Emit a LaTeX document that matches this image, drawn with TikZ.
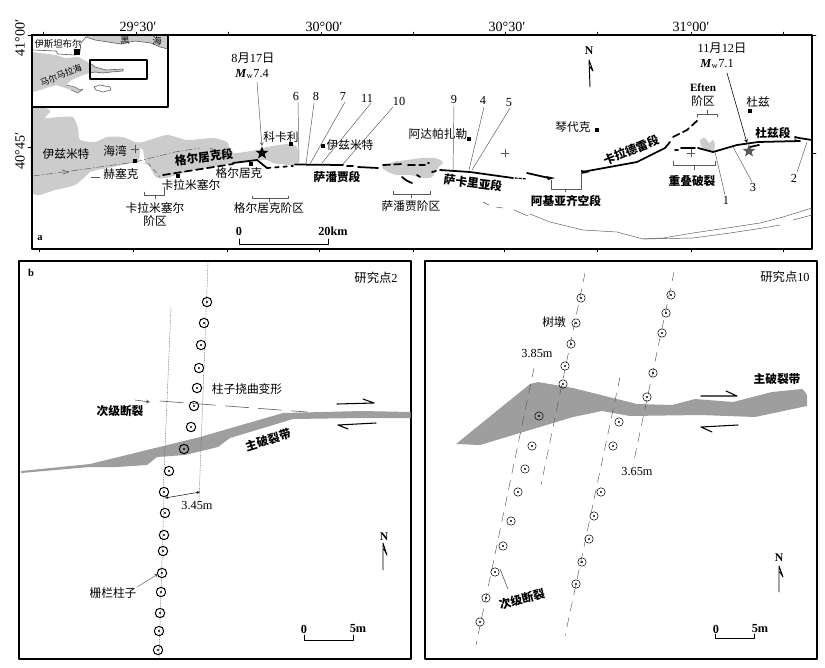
\documentclass[tikz,border=0pt]{standalone}
\usepackage{fontspec}
\usetikzlibrary{shapes.geometric,arrows.meta}
\setmainfont{Liberation Serif}
\newfontfamily\cjk{Noto Sans CJK SC}
\definecolor{seagray}{gray}{0.80}
\definecolor{bandgray}{gray}{0.62}
\definecolor{thingray}{gray}{0.35}
\tikzset{
	zh/.style={font=\cjk\fontsize{10}{12}\selectfont, inner sep=1pt},
	zhb/.style={font=\cjk\bfseries\fontsize{10}{12}\selectfont, inner sep=1pt},
	zhsmall/.style={font=\cjk\fontsize{8}{10}\selectfont, inner sep=0pt},
	lat/.style={font=\fontsize{10.5}{12}\selectfont, inner sep=1pt},
	coord/.style={font=\fontsize{12}{14}\selectfont, inner sep=1pt},
	northlab/.style={font=\fontsize{10}{12}\selectfont\bfseries, inner sep=1pt},
	leader/.style={draw=thingray, line width=0.4pt},
	fault/.style={line width=1.5pt},
	dashfault/.style={line width=1.5pt, dash pattern=on 6pt off 3.5pt},
	town/.style={fill=black, inner sep=0pt, minimum size=3pt},
	cross/.style={draw=thingray, line width=0.4pt},
	frame/.style={line width=1pt},
	post/.style={line width=0.85pt},
	postthin/.style={line width=0.45pt},
	quake/.style={star, star points=5, star point ratio=2.4, inner sep=0pt, minimum size=11.5pt},
}
\begin{document}
\begin{tikzpicture}[x=0.03cm, y=-0.03cm, line join=round, line cap=round, >=stealth]
	\useasboundingbox (0,0) rectangle (825,667);

	\fill[seagray] plot[smooth cycle, tension=0.35] coordinates {(32,109) (48,109) (50,112) (45,118) (60,117) (73,117) (78,128) (80,140) (95,142) (107,137) (123,137) (135,142) (143,142) (167,135) (187,140) (213,138) (227,142) (233,153) (257,150) (267,147) (287,144) (297,147) (298,163) (290,165) (273,163) (267,160) (257,160) (233,163) (213,167) (193,170) (166,178) (156,177) (148,165) (138,162) (131,163) (108,168) (97,170) (90,172) (85,177) (75,185) (55,190) (32,192)};
	\fill[seagray] (32,108) rectangle (38,192);
	\fill[white] (140,148) -- (143,150) -- (145,163) -- (139,162) -- cycle;
	\fill[seagray] plot[smooth cycle, tension=0.4] coordinates {(382,167) (393,162) (407,160) (422,158) (435,158) (443,162) (438,168) (432,177) (423,178) (410,175) (397,175) (388,172)};
	\fill[seagray] plot[smooth cycle, tension=0.5] coordinates {(700,140) (705,138) (709,143) (713,140) (715,145) (713,152) (707,150) (702,147)};

	\draw[frame] (32,35) rectangle (812,249);
	\foreach \x in {43,136,228,321,413,505,597,691,783} {\draw[thin] (\x,35) -- (\x,32);}
	\foreach \x in {39,133,227,319,413,504,597,691,783} {\draw[thin] (\x,249) -- (\x,252);}
	\draw[thin] (32,35) -- (28,35) (32,147) -- (28,147) (812,35) -- (816,35) (812,153) -- (816,153);
	\draw[cross] (131,149) -- (139,149) (135,145) -- (135,153) (501,153) -- (509,153) (505,149) -- (505,157) (687,153) -- (695,153) (691,149) -- (691,157);

	\node[coord] (lon1) at (138,27) {29°30′};
	\node[coord] (lon2) at (324,27) {30°00′};
	\node[coord] (lon3) at (507,27) {30°30′};
	\node[coord] (lon4) at (691,27) {31°00′};
	\node[coord, rotate=90] (lat1) at (20,38) {41°00′};
	\node[coord, rotate=90] (lat2) at (20,151) {40°45′};

	\fill[white] (32,35) rectangle (168,107);
	\fill[seagray] (85,35) -- (86,37) -- (95,40) -- (121,44) -- (135,41) -- (151,43) -- (160,47) -- (168,49) -- (168,35) -- cycle;
	\draw[thingray, line width=0.5pt] (86,37) -- (95,40) -- (121,44) -- (135,41) -- (151,43) -- (160,47) -- (168,49);
	\draw[thingray, line width=0.5pt] (33,50) -- (56,51) -- (58,54) -- (75,55) -- (80,52) -- (81,43) -- (86,37);
	\fill[seagray] (32,52) -- (56,55) -- (65,58) -- (78,57) -- (88,62) -- (90,65) -- (90,73) -- (83,75) -- (71,80) -- (66,85) -- (75,87) -- (80,90) -- (83,89) -- (78,93) -- (71,90) -- (65,88) -- (56,85) -- (46,88) -- (40,90) -- (32,92) -- cycle;
	\draw[thingray, line width=0.5pt, fill=seagray] (90,63) -- (95,67) -- (106,70) -- (123,69) -- (123,71) -- (111,72) -- (103,73) -- (95,72) -- (90,73);
	\draw[thingray, line width=0.5pt] (94,87) -- (100,85) -- (110,87) -- (111,90) -- (103,92) -- (96,90) -- cycle;
	\draw[thingray, line width=0.4pt] (66,85) -- (75,87) -- (80,90) -- (83,89) -- (78,93) -- (71,90);
	\draw[frame] (32,35) rectangle (168,107);
	\draw[line width=0.9pt] (90,60) rectangle (147,79);
	\node[zhsmall] (istanbul) at (58,44) {伊斯坦布尔};
	\node[town, minimum size=5pt] (istsq) at (77,52) {};
	\node[zhsmall] (heia) at (125,40) {黑};
	\node[zhsmall] (heib) at (157,41) {海};
	\node[zhsmall, rotate=22, font=\cjk\fontsize{7.5}{9}\selectfont] (marmara) at (61,75) {马尔马拉海};

	\draw[thingray, line width=0.4pt, dash pattern=on 6pt off 2pt on 1pt off 2pt] (33,176) -- (71,171) -- (135,162) -- (175,152) -- (200,148);
	\draw[thingray, line width=0.4pt, dash pattern=on 4pt off 3pt] (210,148) -- (230,158) (148,163) -- (160,177);
	\draw[thingray, line width=0.5pt] (62,170) -- (69,172) -- (63,174);
	\draw[line width=0.4pt, thingray] (91,177) -- (100,177);

	\draw[dashfault] (163,175) -- (233,164);
	\draw[fault] (233,163) -- (257,160) -- (267,168);
	\draw[line width=1.5pt, dash pattern=on 3pt off 4pt] (267,168) -- (293,166);
	\draw[fault] (295,164.5) -- (343,165);
	\draw[fault] (347,166) -- (353,166) (358,167) -- (378,168);
	\draw[dashfault] (383,165) -- (402,164) (408,165) -- (425,165);
	\draw[fault] (402,177) to[bend right=10] (412,183);
	\draw[fault] (417,175) -- (420,177) (428,163) -- (429,163) (432,172) -- (436,171);
	\draw[fault] (440,170) -- (470,172) -- (513,178);
	\draw[line width=1pt, dash pattern=on 2pt off 1.5pt] (515,178) -- (527,179);
	\draw[fault] (527,173) -- (549,178);
	\fill (546,176) -- (555,178) -- (548,180) -- cycle;
	\fill (581,170) -- (590,172) -- (581,174) -- cycle;
	\draw[fault] (582,172) -- (637,162) -- (665,148) -- (670,142);
	\draw[dashfault] (673,137) -- (687,130) -- (699,119);
	\draw[fault] (675,150) -- (678,150) (681,148) -- (695,148) (698,148) -- (713,152) -- (737,145) -- (758,142) -- (800,141);
	\draw[fault] (795,137) -- (799,138) -- (812,140);
	\draw[line width=0.8pt] (795,137) -- (795,140) -- (800,141);
	\draw[fault] (750,147) -- (759,145);

	\draw[thingray, line width=0.4pt] (483,202) -- (489,205) (496,207) -- (503,208) (514,210) -- (528,216);
	\draw[thingray, line width=0.4pt] (530,214) -- (550,222) -- (583,230) -- (617,232) -- (643,239) -- (663,238) -- (693,233) -- (727,228) -- (760,223) -- (783,217) -- (812,208);
	\draw[thingray, line width=0.4pt] (643,239) -- (693,238) -- (730,233) -- (763,228) -- (780,225) (793,220) -- (812,215);

	\node[zh] (izmitbay) at (66,154) {伊兹米特};
	\node[zh] (gulf) at (115,151) {海湾};
	\node[zh] (hersek) at (121,174) {赫塞克};
	\node[town] (hersq) at (135,161) {};
	\node[zh] (kara) at (191,185) {卡拉米塞尔};
	\node[town] (karasq) at (178,176) {};
	\node[zh] (golcuk) at (239,173) {格尔居克};
	\node[town] (golsq) at (251,164) {};
	\node[zhb, rotate=7] (golseg) at (204,157) {格尔居克段};
	\node[zh] (kocaeli) at (281,137) {科卡利};
	\node[town] (kocsq) at (291,144) {};
	\node[zh] (izmit) at (350,145) {伊兹米特};
	\node[town] (izsq) at (323,146) {};
	\node[zhb] (sapseg) at (337,177) {萨潘贾段};
	\node[zh] (karastep) at (155,208) {卡拉米塞尔};
	\node[zh] (karastepb) at (155,221) {阶区};
	\node[zh] (golstep) at (269,208) {格尔居克阶区};
	\node[zh] (sapstep) at (411,206) {萨潘贾阶区};
	\node[zh] (adapazari) at (438,134) {阿达帕扎勒};
	\node[town] (adasq) at (469,139) {};
	\node[zhb, rotate=-7] (sakseg) at (473,183) {萨卡里亚段};
	\node[zhb] (akyazi) at (566,201) {阿基亚齐空段};
	\node[zh] (cinarcik) at (573,127) {琴代克};
	\node[town] (cinsq) at (597,130) {};
	\node[zhb, rotate=22] (karadere) at (631,150) {卡拉德雷段};
	\node[font=\fontsize{9.5}{11}\selectfont\bfseries, inner sep=0pt] (eften) at (703,88) {Eften};
	\node[zh] (eftenb) at (703,101) {阶区};
	\node[zh] (duzce) at (758,102) {杜兹};
	\node[town] (duzsq) at (750,111) {};
	\node[zhb] (duzseg) at (773,133) {杜兹段};
	\node[zhb] (overlap) at (692,181) {重叠破裂};
	\node[font=\fontsize{9}{10}\selectfont\bfseries, inner sep=0pt] (panela) at (40,238) {a};

	\draw[thingray, line width=0.4pt] (144,192) -- (144,195) -- (164,195) -- (164,187) (155,195) -- (155,199);
	\draw[thingray, line width=0.4pt] (252,196) -- (252,198) -- (288,198) -- (288,196) (269,198) -- (269,202);
	\draw[thingray, line width=0.4pt] (393,191) -- (393,194) -- (430,194) -- (430,191) (411,194) -- (411,198);
	\draw[thingray, line width=0.4pt] (551,180) -- (551,189) -- (581,189) -- (581,172) (565,189) -- (565,192);
	\draw[thingray, line width=0.4pt] (697,117) -- (697,114) -- (717,114) -- (717,117) (707,114) -- (707,110);
	\draw[thingray, line width=0.4pt] (673,161) -- (673,165) -- (715,165) -- (715,161) (694,165) -- (694,170);

	\node[lat] (date1) at (253,58) {8{\cjk 月}17{\cjk 日}};
	\node[lat] (mag1) at (252,74) {\textbf{\textit{M}}$_{\mathrm{w}}$7.4};
	\coordinate (epi1) at (262,146);
	\draw[thingray, line width=0.4pt, ->] (257,82) -- (epi1);
	\node[quake, fill=black] (star1) at (262,153) {};
	\node[lat] (date2) at (722,48) {11{\cjk 月}12{\cjk 日}};
	\node[lat] (mag2) at (717,64) {\textbf{\textit{M}}$_{\mathrm{w}}$7.1};
	\coordinate (epi2) at (747,143);
	\draw[black, line width=0.5pt, ->] (727,73) -- (epi2);
	\node[quake, fill=black!65] (star2) at (749,151) {};

	\foreach \name/\txt/\lx/\ly/\ex/\ey/\sx/\sy in {
		s6/6/296/96/299/163/298/102, s8/8/316/96/306/164/314/103,
		s7/7/343/96/310/164/345/102, s11/11/367/98/322/163/371/103,
		s10/10/399/101/343/164/393/107, s9/9/454/99/453/170/454/105,
		s4/4/483/100/469/170/484/107, s5/5/509/103/472/170/510/108,
		s1/1/726/200/715/152/725/195, s3/3/753/187/733/147/752/182,
		s2/2/794/178/807/142/797/172} {
		\node[lat] (\name) at (\lx,\ly) {\txt};
		\draw[leader] (\sx,\sy) -- (\ex,\ey);
	}

	\draw[line width=0.8pt] (590,87) -- (589,60) -- (593,71) -- (590,67);
	\node[northlab] (northa) at (589,51) {N};

	\node[lat] (zeroa) at (239,231) {\textbf{0}};
	\node[lat] (twenty) at (333,231) {\textbf{20km}};
	\draw[line width=0.7pt] (239,239) -- (239,244) -- (328,244) -- (328,239);

	\draw[frame] (19,261) rectangle (411,659);
	\fill[bandgray] (21,471) -- (90,464) -- (200,437) -- (283,413) -- (362,411) -- (410.5,412) -- (410.5,418) -- (362,418) -- (293,419) -- (230,438) -- (218,447) -- (185,455) -- (157,457) -- (147,465) -- (117,467) -- (90,467) -- (21,473) -- cycle;
	\draw[thingray, line width=0.4pt, densely dotted] (208,262) -- (199,500) (171,307) -- (163,495) (164,495) -- (159,658);
	\foreach \x/\y in {207/302,204/323,201/345,199/368,197/388,194/406,191/427,184/449,169/471,164/492,165/513,164/535,163/551,162/573,161/592,160/613,159/631,158/650} {
		\draw[post] (\x,\y) circle (4pt);
		\fill (\x,\y) circle (0.9pt);
	}
	\node[font=\fontsize{9}{10}\selectfont\bfseries, inner sep=0pt] (panelb) at (31,273) {b};
	\node[lat] (site2) at (376,278) {{\cjk 研究点}2};
	\node[zh] (bending) at (247,389) {柱子挠曲变形};
	\node[zhb] (secondb) at (120,411) {次级断裂};
	\coordinate (secondbtip) at (150,402);
	\draw[thingray, line width=0.5pt, ->] (135,400) -- (secondbtip);
	\draw[thingray, line width=0.5pt, dash pattern=on 20pt off 8pt] (160,401) -- (307,412);
	\node[zhb, rotate=17] (mainb) at (268,440) {主破裂带};
	\coordinate (wa) at (165,498);
	\coordinate (wb) at (200,492);
	\draw[{Stealth[length=3pt]}-{Stealth[length=3pt]}, line width=0.4pt] (wa) -- (wb);
	\node[lat] (widthb) at (197,506) {3.45m};
	\node[zh] (fencepost) at (113,593) {栅栏柱子};
	\coordinate (fencetip) at (158,574);
	\draw[thingray, line width=0.4pt, ->] (137,587) -- (fencetip);
	\draw[line width=0.9pt] (337,404) -- (374,403) -- (363,399);
	\draw[line width=0.9pt] (376,423) -- (338,425) -- (348,429);
	\draw[line width=0.8pt] (383,570) -- (383,543) -- (387,555) -- (384,549);
	\node[northlab] (northb) at (384,537) {N};
	\node[lat] (zerob) at (304,629) {\textbf{0}};
	\node[lat] (fiveb) at (358,629) {\textbf{5m}};
	\draw[line width=0.7pt] (304,635) -- (304,640) -- (353,640) -- (353,635);

	\draw[frame] (425,261) rectangle (817,659);
	\fill[bandgray] (456,444) -- (488,418) -- (530,384) -- (538,382) -- (573,388) -- (637,404) -- (672,405) -- (695,399) -- (733,402) -- (772,392) -- (802,389) -- (805,392) -- (807,395) -- (807,406) -- (755,417) -- (700,415) -- (630,416) -- (602,411) -- (573,417) -- (480,445) -- cycle;
	\draw[thingray, line width=0.4pt, dash pattern=on 8pt off 6pt] (585,273) -- (541,485) (534,368) -- (476,645) (674,272) -- (633,465) (620,377) -- (565,636);
	\foreach \x/\y in {581/298,576/323,571/344,565/366,563/384,539/416,532/446,525/469,518/492,511/521,503/546,495/572,486/598,480/622,671/295,666/313,662/333,653/373,647/397,619/422,613/446,601/492,594/516,589/539,582/562,576/584} {
		\draw[postthin] (\x,\y) circle (3.6pt);
		\fill (\x,\y) circle (1pt);
	}
	\node[lat] (site10) at (785,277) {{\cjk 研究点}10};
	\node[zh] (stump) at (554,322) {树墩};
	\node[lat] (widthc) at (537,353) {3.85m};
	\node[lat] (widthd) at (637,472) {3.65m};
	\node[zhb] (mainc) at (777,379) {主破裂带};
	\node[zhb, rotate=15] (secondc) at (522,599) {次级断裂};
	\coordinate (secondca) at (500,569);
	\coordinate (secondcb) at (508,589);
	\draw[thingray, line width=0.5pt] (secondca) -- (secondcb);
	\draw[line width=0.9pt] (701,396) -- (737,396) -- (726,391);
	\draw[line width=0.9pt] (738,425) -- (701,427) -- (712,432);
	\draw[line width=0.8pt] (779,592) -- (779,566) -- (783,577) -- (780,572);
	\node[northlab] (northc) at (779,558) {N};
	\node[lat] (zeroc) at (716,629) {\textbf{0}};
	\node[lat] (fivec) at (760,629) {\textbf{5m}};
	\draw[line width=0.7pt] (715,634) -- (715,638) -- (754,638) -- (754,634);
\end{tikzpicture}
\end{document}
